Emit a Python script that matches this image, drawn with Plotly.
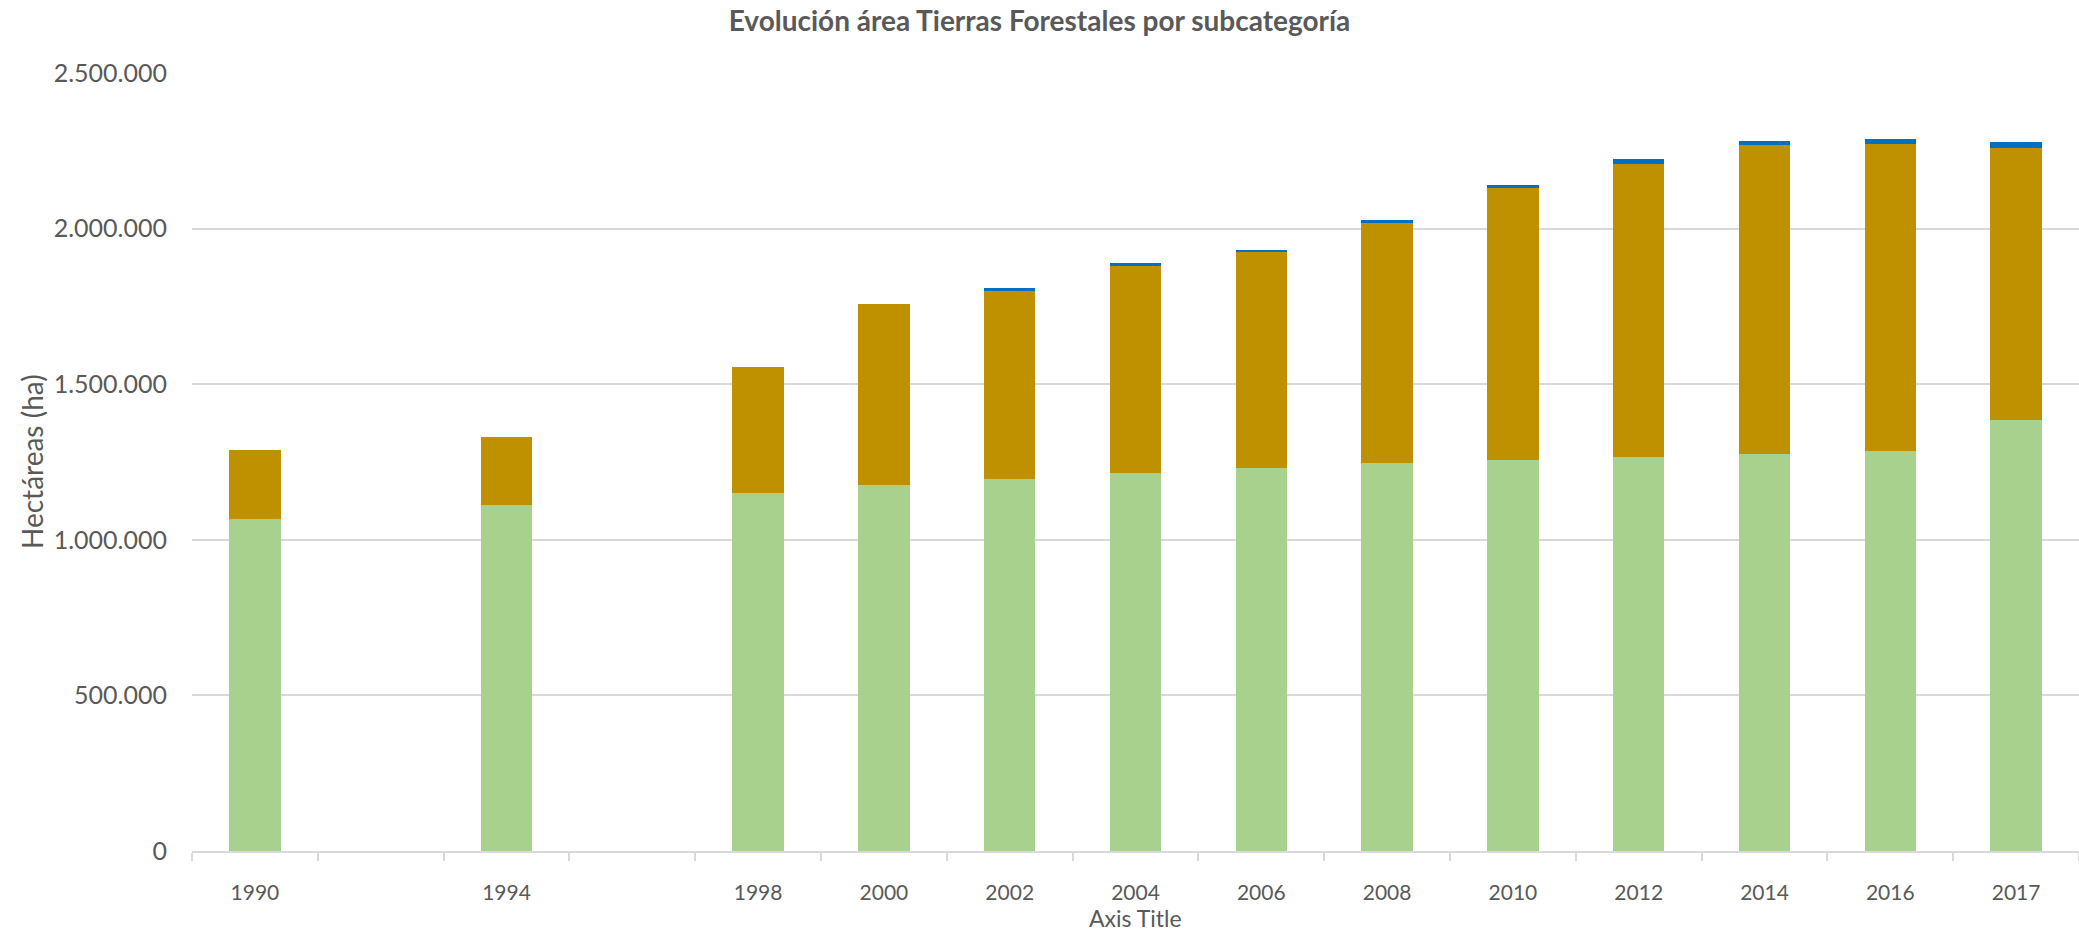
import plotly.graph_objects as go

# Category slots along the x axis (two empty slots between 1990, 1994 and 1998)
years = ["1990", "", "1994", "", "1998", "2000", "2002", "2004", "2006",
         "2008", "2010", "2012", "2014", "2016", "2017"]

# Area per subcategory, hectares (None = no data for that slot)
bosque_nativo = [1068000, None, 1112000, None, 1152000, 1176000, 1196000, 1214000,
                 1230000, 1248000, 1256000, 1267000, 1276000, 1286000, 1385000]
plantaciones = [220000, None, 219000, None, 403000, 583000, 605000, 667000,
                694000, 771000, 873000, 942000, 992000, 986000, 874000]
otras = [0, None, 0, None, 0, 0, 9000, 8000,
         8000, 10000, 12000, 14000, 15000, 15000, 18000]

y_ticks = [0, 500000, 1000000, 1500000, 2000000, 2500000]

# Page geometry (pixels)
W, H = 2079, 934
PLOT_L, PLOT_R = 192, 2079
PLOT_T, PLOT_B = 73, 851

TEXT = "#595959"
GRID = "#D9D9D9"
FONT = "Lato, 'Open Sans', sans-serif"

x_pos = list(range(len(years)))

fig = go.Figure()
for name, vals, color in [
    ("Bosque nativo", bosque_nativo, "#A9D18E"),
    ("Plantaciones", plantaciones, "#BF9000"),
    ("Otras", otras, "#0070C0"),
]:
    fig.add_trace(go.Bar(
        x=x_pos, y=vals, name=name,
        marker=dict(color=color, line=dict(width=0)),
    ))

plot_w = PLOT_R - PLOT_L
plot_h = PLOT_B - PLOT_T


def px_to_paper_x(px):
    return (px - PLOT_L) / plot_w


def px_to_paper_y(py):
    return (PLOT_B - py) / plot_h


fig.update_layout(
    width=W, height=H,
    barmode="stack",
    bargap=0.59,
    showlegend=False,
    separators=",.",
    plot_bgcolor="white",
    paper_bgcolor="white",
    margin=dict(l=PLOT_L, r=W - PLOT_R, t=PLOT_T, b=H - PLOT_B, pad=0, autoexpand=False),
    font=dict(family=FONT, color=TEXT),
    title=dict(
        text="<b>Evolución área Tierras Forestales por subcategoría</b>",
        xref="container", yref="container",
        x=0.5, xanchor="center",
        y=1 - 21 / H, yanchor="middle",
        font=dict(family=FONT, size=28, color=TEXT),
    ),
    xaxis=dict(
        range=[-0.5, len(years) - 0.5],
        tickmode="array",
        tickvals=x_pos,
        ticktext=years,
        ticks="",
        tickfont=dict(family=FONT, size=21, color=TEXT),
        ticklabelstandoff=22,
        showgrid=False,
        zeroline=False,
        showline=True,
        linecolor=GRID,
        linewidth=2,
        minor=dict(
            tickmode="linear", tick0=-0.5, dtick=1,
            ticks="outside", ticklen=8, tickwidth=2, tickcolor=GRID,
            showgrid=False,
        ),
        fixedrange=True,
    ),
    yaxis=dict(
        range=[0, 2500000],
        tickmode="array",
        tickvals=y_ticks,
        tickformat=",d",
        tickfont=dict(family=FONT, size=25, color=TEXT),
        ticklabelstandoff=24,
        showgrid=True,
        gridcolor=GRID,
        gridwidth=2,
        zeroline=False,
        showline=False,
        fixedrange=True,
    ),
    annotations=[
        dict(
            text="Hectáreas (ha)", textangle=-90,
            xref="paper", yref="paper",
            x=px_to_paper_x(32), y=px_to_paper_y((PLOT_T + PLOT_B) / 2),
            xanchor="center", yanchor="middle", showarrow=False,
            font=dict(family=FONT, size=28, color=TEXT),
        ),
        dict(
            text="Axis Title",
            xref="paper", yref="paper",
            x=0.5, y=px_to_paper_y(918),
            xanchor="center", yanchor="middle", showarrow=False,
            font=dict(family=FONT, size=23, color=TEXT),
        ),
    ],
)

fig.write_html("out.html")
